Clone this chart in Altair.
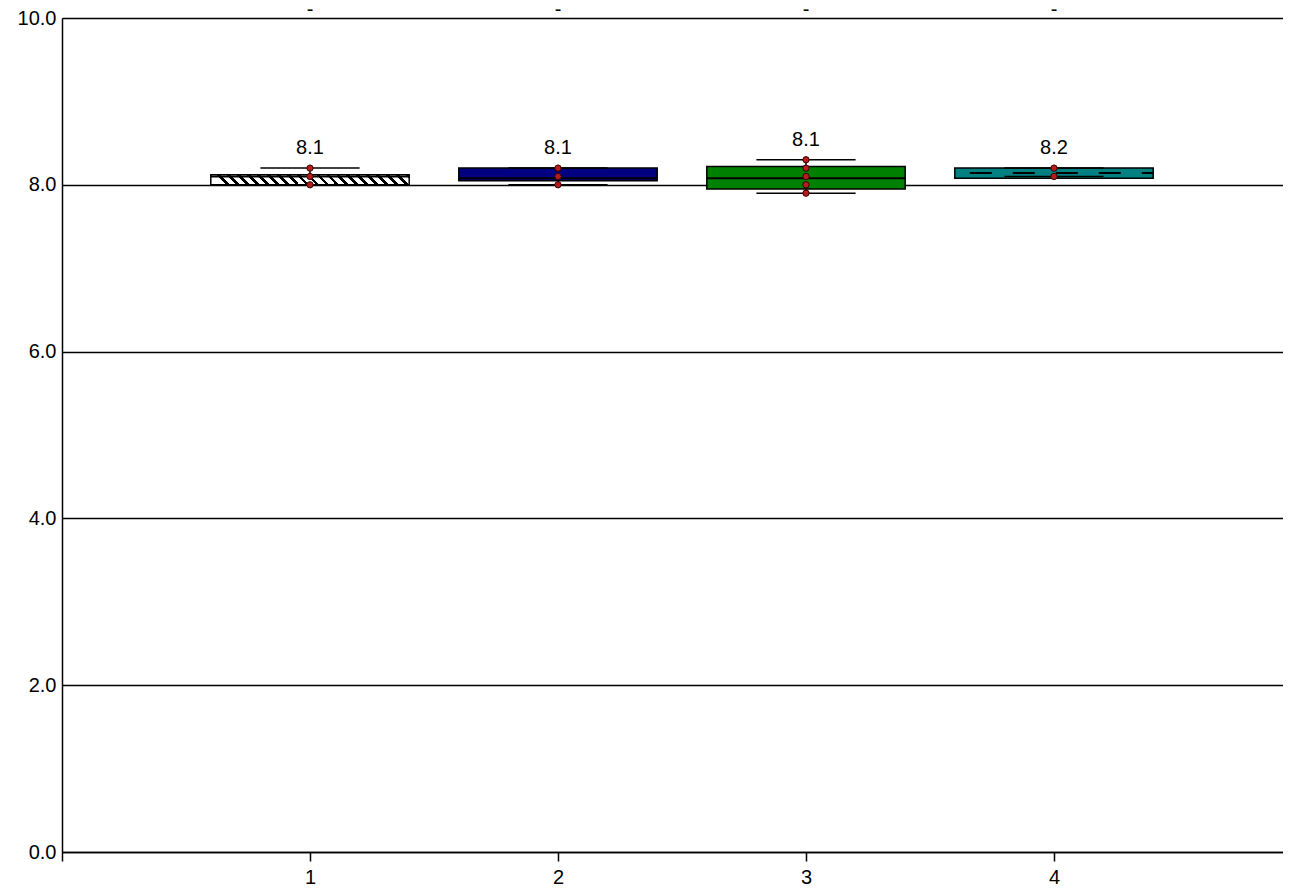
import altair as alt
import pandas as pd

# ---- data ----
groups = [1, 2, 3, 4]
lower_whisker = [8.0, 8.0, 7.9, 8.1]
q1 = [8.0, 8.05, 7.95, 8.08]
median = [8.1, 8.08, 8.08, 8.14]
q3 = [8.12, 8.2, 8.22, 8.2]
upper_whisker = [8.2, 8.2, 8.3, 8.2]
mean_labels = ["8.1", "8.1", "8.1", "8.2"]
top_labels = ["-", "-", "-", "-"]
box_colors = ["#ffffff", "#000080", "#008000", "#008080"]

point_groups = [1, 1, 1, 2, 2, 2, 3, 3, 3, 3, 3, 4, 4]
point_values = [8.0, 8.1, 8.2, 8.0, 8.1, 8.2, 7.9, 8.0, 8.1, 8.2, 8.3, 8.1, 8.2]

y_ticks = [0, 2, 4, 6, 8, 10]
x_ticks = [0, 1, 2, 3, 4]

FONT = "Liberation Sans"
FS = 20
W, H = 1221, 834
X_MAX = W / 248.0

stats = pd.DataFrame({
    "g": groups, "lo": lower_whisker, "q1": q1, "med": median,
    "q3": q3, "hi": upper_whisker, "mean": mean_labels,
    "top": top_labels, "fill": box_colors,
})
pts = pd.DataFrame({"g": point_groups, "v": point_values})

xscale = alt.Scale(domain=[0, X_MAX], nice=False, zero=False)
yscale = alt.Scale(domain=[0, 10], nice=False)

xaxis = alt.Axis(values=x_ticks,
                 labelExpr="datum.value == 0 ? '' : format(datum.value, 'd')",
                 title=None, grid=False, tickSize=9, tickColor="black", tickWidth=1.5,
                 domainColor="black", domainWidth=1.5, labelFont=FONT, labelFontSize=FS,
                 labelColor="black", labelPadding=6)
yaxis = alt.Axis(values=y_ticks, format=".1f", title=None, grid=True, gridColor="black",
                 gridWidth=1.5, ticks=False, domainColor="black", domainWidth=1.5,
                 labelFont=FONT, labelFontSize=FS, labelColor="black", labelPadding=6)

base = alt.Chart(stats).transform_calculate(
    bx0="datum.g - 0.4", bx1="datum.g + 0.4",
    cx0="datum.g - 0.2", cx1="datum.g + 0.2",
)

# diagonal hatch for the first box (white with black stripes)
n_stripes = 20
stops = []
for i in range(n_stripes):
    a = i / n_stripes
    m = (i + 0.62) / n_stripes
    b = (i + 1) / n_stripes
    stops += [{"offset": a, "color": "#ffffff"}, {"offset": m, "color": "#ffffff"},
              {"offset": m, "color": "#000000"}, {"offset": b, "color": "#000000"}]
hatch = {"gradient": "linear", "x1": 0, "y1": 0.05, "x2": 1, "y2": 0, "stops": stops}

boxes = base.transform_filter("datum.g != 1").mark_rect(stroke="black", strokeWidth=1.5).encode(
    x=alt.X("bx0:Q", scale=xscale, axis=xaxis),
    x2="bx1:Q",
    y=alt.Y("q1:Q", scale=yscale, axis=yaxis),
    y2="q3:Q",
    fill=alt.Fill("fill:N", scale=None),
)
box_hatch = base.transform_filter("datum.g == 1").mark_rect(
    stroke="black", strokeWidth=1.5, fill=hatch).encode(
    x=alt.X("bx0:Q", scale=xscale), x2="bx1:Q",
    y=alt.Y("q1:Q", scale=yscale), y2="q3:Q",
)

whisk_up = base.mark_rule(color="black", strokeWidth=1.5).encode(
    x=alt.X("g:Q", scale=xscale), y=alt.Y("q3:Q", scale=yscale), y2="hi:Q")
whisk_lo = base.mark_rule(color="black", strokeWidth=1.5).encode(
    x=alt.X("g:Q", scale=xscale), y=alt.Y("lo:Q", scale=yscale), y2="q1:Q")
cap_up = base.mark_rule(color="black", strokeWidth=1.5).encode(
    x=alt.X("cx0:Q", scale=xscale), x2="cx1:Q", y=alt.Y("hi:Q", scale=yscale))
cap_lo = base.mark_rule(color="black", strokeWidth=1.5).encode(
    x=alt.X("cx0:Q", scale=xscale), x2="cx1:Q", y=alt.Y("lo:Q", scale=yscale))

med_solid = base.transform_filter("datum.g != 4").mark_rule(
    color="black", strokeWidth=2).encode(
    x=alt.X("bx0:Q", scale=xscale), x2="bx1:Q", y=alt.Y("med:Q", scale=yscale))
med_dash = base.transform_filter("datum.g == 4").mark_rule(
    color="black", strokeWidth=2, strokeDash=[22, 21], strokeDashOffset=-15).encode(
    x=alt.X("bx0:Q", scale=xscale), x2="bx1:Q", y=alt.Y("med:Q", scale=yscale))

points = alt.Chart(pts).mark_point(filled=True, fill="#b81c1a", stroke="#3a0000",
                                   strokeWidth=1, size=40, opacity=1).encode(
    x=alt.X("g:Q", scale=xscale), y=alt.Y("v:Q", scale=yscale))

mean_text = base.mark_text(font=FONT, fontSize=FS, color="black", baseline="middle",
                           dy=-20).encode(
    x=alt.X("g:Q", scale=xscale), y=alt.Y("hi:Q", scale=yscale), text="mean:N")

top_text = base.mark_text(font=FONT, fontSize=FS, color="black", baseline="middle").encode(
    x=alt.X("g:Q", scale=xscale), y=alt.value(-8), text="top:N")

chart = alt.layer(
    boxes, box_hatch, whisk_up, whisk_lo, cap_up, cap_lo, med_solid, med_dash,
    points, mean_text, top_text,
).properties(
    width=W, height=H,
    autosize=alt.AutoSizeParams(type="none"),
    padding={"left": 54, "top": 10, "right": 0, "bottom": 35},
).configure_view(stroke=None).configure(background="white")

chart.save("out.html", embed_options={"renderer": "svg", "actions": False})
